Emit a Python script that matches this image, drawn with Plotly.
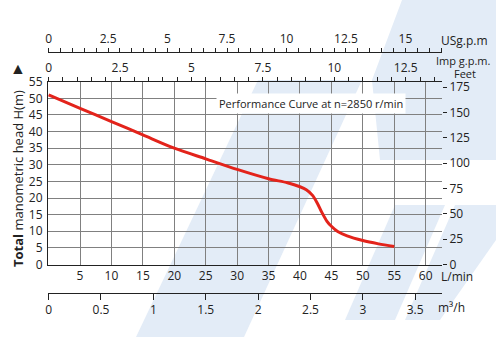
import plotly.graph_objects as go

# ---- data ----
flow_lpm = [0, 5, 10, 15, 20, 25, 30, 35, 38, 40, 41, 42, 42.8, 43.5, 44.3, 45, 46, 47.5, 50, 52.5, 55]
head_m = [51, 47, 43, 39, 35, 31.8, 28.6, 25.8, 24.6, 23.4, 22.5, 20.8, 18.3, 15.6, 13.0, 11.5, 9.9, 8.6, 7.2, 6.2, 5.4]

lpm_ticks = [5, 10, 15, 20, 25, 30, 35, 40, 45, 50, 55, 60]
head_ticks = [0, 5, 10, 15, 20, 25, 30, 35, 40, 45, 50, 55]
feet_ticks = [0, 25, 50, 75, 100, 125, 150, 175]
usgpm_ticks = [0, 2.5, 5, 7.5, 10, 12.5, 15]
impgpm_ticks = [0, 2.5, 5, 7.5, 10, 12.5]
m3h_ticks = [0, 0.5, 1, 1.5, 2, 2.5, 3, 3.5]

X_MIN, X_MAX = -0.1, 62.6
Y_MIN, Y_MAX = 0, 55
US_GAL = 3.78541
IMP_GAL = 4.54609
FT_PER_M = 3.28084

FONT = "Open Sans"
W, H = 496, 337
MT, MB, ML, MR = 40, 35, 48, 54
paper_h = H - MT - MB
paper_w = W - ML - MR


def py(ypix):
    return (H - MB - ypix) / paper_h


def px(xpix):
    return (xpix - ML) / paper_w


fig = go.Figure()
fig.add_trace(go.Scatter(
    x=flow_lpm, y=head_m, mode="lines",
    line=dict(color="#e3231b", width=3, shape="spline", smoothing=0.8),
    hoverinfo="skip", showlegend=False,
))
fig.add_trace(go.Scatter(x=[None], y=[None], xaxis="x", yaxis="y2", showlegend=False))
for ax in ["x2", "x3", "x4"]:
    fig.add_trace(go.Scatter(x=[None], y=[None], xaxis=ax, yaxis="y", showlegend=False))

tickfont = dict(family=FONT, size=12, color="#222")

fig.update_layout(
    width=W, height=H,
    margin=dict(l=ML, r=MR, t=MT, b=MB),
    paper_bgcolor="white", plot_bgcolor="rgba(0,0,0,0)",
    showlegend=False,
    font=dict(family=FONT, size=12, color="#222"),
    xaxis=dict(
        domain=[0, 1], range=[X_MIN, X_MAX], anchor="y",
        tickvals=lpm_ticks, ticks="", showline=True, linecolor="#222", linewidth=1,
        showgrid=True, gridcolor="#808080", gridwidth=1, zeroline=False,
        tickfont=tickfont, ticklabelstandoff=0,
    ),
    yaxis=dict(
        domain=[py(264.5), py(81.7)], range=[Y_MIN, Y_MAX], anchor="x",
        tickvals=head_ticks, ticks="", showline=True, linecolor="#222", linewidth=1,
        showgrid=True, gridcolor="#808080", gridwidth=1, zeroline=False,
        tickfont=tickfont, ticklabelstandoff=2,
    ),
    yaxis2=dict(
        overlaying="y", side="right", anchor="x",
        range=[Y_MIN * FT_PER_M, Y_MAX * FT_PER_M],
        tickvals=feet_ticks, ticks="outside", ticklen=4, tickcolor="#222",
        showline=False, showgrid=False, zeroline=False, tickfont=tickfont,
    ),
    xaxis2=dict(
        overlaying="x", anchor="free", position=py(51.7), side="top",
        range=[X_MIN / US_GAL, X_MAX / US_GAL],
        tickvals=usgpm_ticks, ticks="outside", ticklen=4, tickcolor="#222",
        minor=dict(dtick=0.5, tick0=0, ticks="outside", ticklen=4, tickcolor="#222"),
        showline=True, linecolor="#222", linewidth=1, showgrid=False, zeroline=False,
        tickfont=tickfont,
    ),
    xaxis3=dict(
        overlaying="x", anchor="y", side="top",
        range=[X_MIN / IMP_GAL, X_MAX / IMP_GAL],
        tickvals=impgpm_ticks, ticks="outside", ticklen=4, tickcolor="#222",
        minor=dict(dtick=0.5, tick0=0, ticks="outside", ticklen=4, tickcolor="#222"),
        showline=True, linecolor="#222", linewidth=1, showgrid=False, zeroline=False,
        tickfont=tickfont,
    ),
    xaxis4=dict(
        overlaying="x", anchor="free", position=py(293), side="bottom",
        range=[X_MIN * 0.06, X_MAX * 0.06],
        tickvals=m3h_ticks, ticks="outside", ticklen=6, tickcolor="#222",
        showline=True, linecolor="#222", linewidth=1, showgrid=False, zeroline=False,
        tickfont=tickfont,
    ),
)

# ---- pale watermark logo (background decoration) ----
WM = "#e3ecf7"


def poly(points):
    d = "M " + " L ".join(f"{px(x):.4f},{py(y):.4f}" for x, y in points) + " Z"
    return dict(type="path", path=d, xref="paper", yref="paper", fillcolor=WM,
                line=dict(width=0), layer="below")


shapes = [
    poly([(258, 80), (362, 80), (244, 337), (136, 337)]),
    poly([(402, 0), (496, 0), (496, 160), (380, 160), (372, 80)]),
    poly([(395, 205), (445, 205), (395, 320), (345, 320)]),
    poly([(455, 205), (496, 205), (496, 240), (440, 320), (405, 320)]),
]
fig.update_layout(shapes=shapes)

ann = []


def label(text, xpix, ypix, size=12, xanchor="left", **kw):
    ann.append(dict(text=text, xref="paper", yref="paper", x=px(xpix), y=py(ypix),
                    xanchor=xanchor, yanchor="middle", showarrow=False,
                    font=dict(family=FONT, size=size, color="#222"), **kw))


label("USg.p.m", 439, 40)
label("Imp g.p.m.", 434, 61, size=11)
label("Feet", 452, 73, size=11)
label("L/min", 439, 276, size=12)
label("m³/h", 436, 307)
label("▲", 18, 68, size=16, xanchor="center")
label("<b>Total</b> manometric head H(m)", 18, 179, size=13, xanchor="center", textangle=-90)
ann.append(dict(text="Performance Curve at n=2850 r/min", xref="paper", yref="paper",
                x=px(311), y=py(103), xanchor="center", yanchor="middle", showarrow=False,
                bgcolor="white", borderpad=2,
                font=dict(family=FONT, size=11, color="#222")))
fig.update_layout(annotations=ann)

fig.write_html("out.html")
